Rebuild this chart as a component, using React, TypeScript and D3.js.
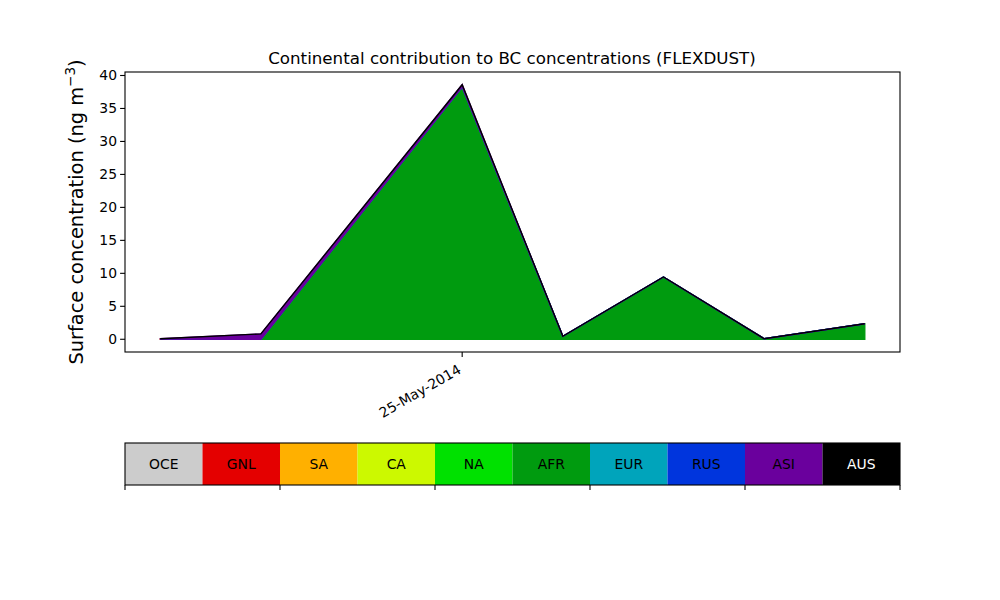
import React from 'react';
import * as d3 from 'd3';

// continents, stacked bottom to top
const regions = ['OCE', 'GNL', 'SA', 'CA', 'NA', 'AFR', 'EUR', 'RUS', 'ASI', 'AUS'];
const regionColors = ['#cccccc', '#e40000', '#ffb000', '#ccf900', '#00e100', '#009b0f', '#00a4bb', '#0035dd', '#6a009d', '#000000'];

const dates = ['2014-05-22', '2014-05-23', '2014-05-25', '2014-05-26', '2014-05-27', '2014-05-28', '2014-05-29'];

const OCE = [0, 0, 0, 0, 0, 0, 0];
const GNL = [0, 0, 0, 0, 0, 0, 0];
const SA = [0.05, 0, 0, 0, 0, 0, 0];
const CA = [0, 0, 0, 0, 0, 0, 0];
const NA = [0, 0, 0, 0, 0, 0, 0];
const AFR = [0, 0, 38.3, 0.45, 9.45, 0.08, 2.35];
const EUR = [0, 0, 0, 0, 0, 0, 0];
const RUS = [0, 0, 0, 0, 0, 0, 0];
const ASI = [0.03, 0.82, 0.3, 0, 0, 0, 0];
const AUS = [0, 0, 0, 0, 0, 0, 0];

const seriesValues = [OCE, GNL, SA, CA, NA, AFR, EUR, RUS, ASI, AUS];
const yTicks = [0, 5, 10, 15, 20, 25, 30, 35, 40];
const xTickDates = ['2014-05-25'];

const W = 1000, H = 600;
const m = { left: 125, right: 900, top: 72, bottom: 352 };
const font = 'DejaVu Sans, sans-serif';

export default function App() {
  const parse = d3.timeParse('%Y-%m-%d');
  const fmt = d3.timeFormat('%d-%b-%Y');
  const rows = dates.map((d, i) => {
    const r: any = { date: parse(d) };
    regions.forEach((k, j) => (r[k] = seriesValues[j][i]));
    return r;
  });
  const stacked = d3.stack<any>().keys(regions)(rows);
  const total = rows.map(r => d3.sum(regions, k => r[k]));

  const xExt = d3.extent(rows, r => r.date as Date) as [Date, Date];
  const span = +xExt[1] - +xExt[0];
  const x = d3.scaleTime()
    .domain([new Date(+xExt[0] - span * 0.05), new Date(+xExt[1] + span * 0.05)])
    .range([m.left, m.right]);
  const yMax = d3.max(total)!;
  const y = d3.scaleLinear()
    .domain([-yMax * 0.05, yMax * 1.05])
    .range([m.bottom, m.top]);

  const area = d3.area<any>()
    .x(d => x(d.data.date))
    .y0(d => y(d[0]))
    .y1(d => y(d[1]));

  // colour bar legend
  const cb = { left: 125, right: 900, top: 443, bottom: 485 };
  const cbx = d3.scaleBand().domain(regions).range([cb.left, cb.right]);
  const cbTicks = d3.range(0, regions.length + 1, 2).map(i => cb.left + i * cbx.bandwidth());

  return (
    <svg width={W} height={H} style={{ position: 'absolute', left: 0, top: 0, background: '#fff' }} fontFamily={font}>
      <g>
        {stacked.map((s, i) => (
          <path key={s.key} d={area(s)!} fill={regionColors[i]} stroke={regionColors[i]} strokeWidth={1.4} strokeLinejoin="miter" />
        ))}
      </g>
      <rect x={m.left} y={m.top} width={m.right - m.left} height={m.bottom - m.top} fill="none" stroke="#000" strokeWidth={1.1} />
      {yTicks.map(t => (
        <g key={t} transform={`translate(${m.left},${y(t)})`}>
          <line x1={-4.9} x2={0} stroke="#000" strokeWidth={1.1} />
          <text x={-8} dy="0.35em" textAnchor="end" fontSize={13.9}>{t}</text>
        </g>
      ))}
      {xTickDates.map(d => {
        const xd = x(parse(d)!);
        return (
          <g key={d} transform={`translate(${xd},${m.bottom})`}>
            <line y1={0} y2={4.9} stroke="#000" strokeWidth={1.1} />
            <text transform="translate(-5,12) rotate(-30)" textAnchor="end" dy="0.7em" fontSize={13.9}>{fmt(parse(d)!)}</text>
          </g>
        );
      })}
      <text x={512} y={64} textAnchor="middle" fontSize={16.7}>Continental contribution to BC concentrations (FLEXDUST)</text>
      <text transform={`translate(83,${(m.top + m.bottom) / 2}) rotate(-90)`} textAnchor="middle" fontSize={19.4}>
        Surface concentration (ng m<tspan dy={-8} fontSize={13.5}>−3</tspan><tspan dy={8}>)</tspan>
      </text>

      {regions.map((k, i) => (
        <g key={k}>
          <rect x={cbx(k)} y={cb.top} width={cbx.bandwidth()} height={cb.bottom - cb.top} fill={regionColors[i]} />
          <text x={cbx(k)! + cbx.bandwidth() / 2} y={(cb.top + cb.bottom) / 2} dy="0.35em" textAnchor="middle" fontSize={13.9} fill={k === 'AUS' ? '#fff' : '#000'}>{k}</text>
        </g>
      ))}
      <rect x={cb.left} y={cb.top} width={cb.right - cb.left} height={cb.bottom - cb.top} fill="none" stroke="#000" strokeWidth={1.1} />
      {cbTicks.map(t => (
        <line key={t} x1={t} x2={t} y1={cb.bottom} y2={cb.bottom + 4.9} stroke="#000" strokeWidth={1.1} />
      ))}
    </svg>
  );
}
